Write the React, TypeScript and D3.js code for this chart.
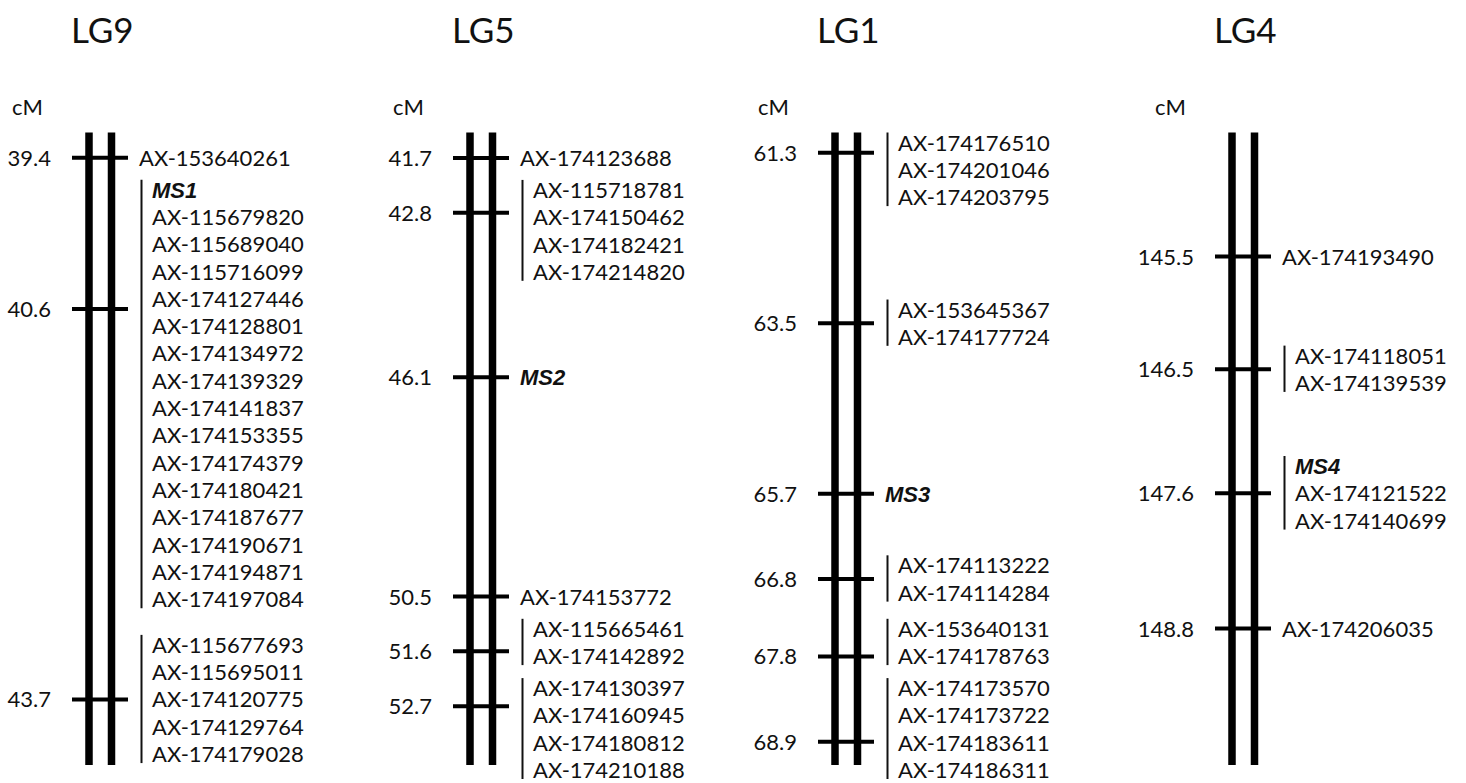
import React from 'react';
import * as d3 from 'd3';

// linkage groups, left to right
const groupNames = ['LG9', 'LG5', 'LG1', 'LG4'];

// locus positions (cM)
const lg9Pos = [39.4, 40.6, 43.7];
const lg5Pos = [41.7, 42.8, 46.1, 50.5, 51.6, 52.7];
const lg1Pos = [61.3, 63.5, 65.7, 66.8, 67.8, 68.9];
const lg4Pos = [145.5, 146.5, 147.6, 148.8];

// cM span shown by each bar
const lg9Extent = [39.2, 44.22];
const lg5Extent = [41.19, 53.88];
const lg1Extent = [61.04, 69.2];
const lg4Extent = [144.4, 150.01];

// markers at each locus
const lg9Markers = [
  ['AX-153640261'],
  ['MS1', 'AX-115679820', 'AX-115689040', 'AX-115716099', 'AX-174127446', 'AX-174128801',
    'AX-174134972', 'AX-174139329', 'AX-174141837', 'AX-174153355', 'AX-174174379',
    'AX-174180421', 'AX-174187677', 'AX-174190671', 'AX-174194871', 'AX-174197084'],
  ['AX-115677693', 'AX-115695011', 'AX-174120775', 'AX-174129764', 'AX-174179028'],
];
const lg5Markers = [
  ['AX-174123688'],
  ['AX-115718781', 'AX-174150462', 'AX-174182421', 'AX-174214820'],
  ['MS2'],
  ['AX-174153772'],
  ['AX-115665461', 'AX-174142892'],
  ['AX-174130397', 'AX-174160945', 'AX-174180812', 'AX-174210188'],
];
const lg1Markers = [
  ['AX-174176510', 'AX-174201046', 'AX-174203795'],
  ['AX-153645367', 'AX-174177724'],
  ['MS3'],
  ['AX-174113222', 'AX-174114284'],
  ['AX-153640131', 'AX-174178763'],
  ['AX-174173570', 'AX-174173722', 'AX-174183611', 'AX-174186311'],
];
const lg4Markers = [
  ['AX-174193490'],
  ['AX-174118051', 'AX-174139539'],
  ['MS4', 'AX-174121522', 'AX-174140699'],
  ['AX-174206035'],
];

const allPos = [lg9Pos, lg5Pos, lg1Pos, lg4Pos];
const allExtent = [lg9Extent, lg5Extent, lg1Extent, lg4Extent];
const allMarkers = [lg9Markers, lg5Markers, lg1Markers, lg4Markers];

// layout
const W = 1466;
const H = 783;
const tickX = [72, 453, 818, 1215];
const barTop = 132.5;
const barBottom = 765;
const ROW = 27.3;
const GAP = 32;
const TOP_MIN = 142.5;
const BOTTOM_MAX = 770;
const font = 'Lato, "Open Sans", sans-serif';
const fs = 22;
const ink = '#111';

// push label blocks apart so they never overlap
function layoutGroups(ys: number[], sizes: number[]) {
  const n = ys.length;
  const s = ys.map((y, i) => y - ((sizes[i] - 1) * ROW) / 2);
  for (let i = 0; i < n; i++) {
    if (i === 0) s[0] = Math.max(s[0], TOP_MIN);
    else s[i] = Math.max(s[i], s[i - 1] + (sizes[i - 1] - 1) * ROW + GAP);
  }
  s[n - 1] = Math.min(s[n - 1], BOTTOM_MAX - (sizes[n - 1] - 1) * ROW);
  for (let i = n - 2; i >= 0; i--) {
    s[i] = Math.min(s[i], s[i + 1] - GAP - (sizes[i] - 1) * ROW);
  }
  return s;
}

const Chromosome = ({ idx }: { idx: number }) => {
  const x0 = tickX[idx];
  const pos = allPos[idx];
  const markers = allMarkers[idx];
  const y = d3.scaleLinear().domain(allExtent[idx]).range([barTop, barBottom]);
  const starts = layoutGroups(pos.map(d => y(d)), markers.map(m => m.length));
  const bars = [x0 + 17, x0 + 39.5];

  return (
    <g>
      <text x={x0 - 1} y={43} fontFamily={font} fontSize={35} fill={ink}>{groupNames[idx]}</text>
      <text x={x0 - 60} y={115} fontFamily={font} fontSize={fs} fill={ink}>cM</text>
      {bars.map((bx, i) => (
        <rect key={i} x={bx - 3.75} y={barTop} width={7.5} height={barBottom - barTop} fill="#000" />
      ))}
      {pos.map((p, i) => {
        const ty = y(p);
        const list = markers[i];
        const s = starts[i];
        const grouped = list.length > 1;
        const tx = grouped ? x0 + 80 : x0 + 67;
        return (
          <g key={i}>
            <line x1={x0} x2={x0 + 56} y1={ty} y2={ty} stroke="#000" strokeWidth={4} />
            <text x={x0 - 21} y={ty + 8} textAnchor="end" fontFamily={font} fontSize={fs} fill={ink}>
              {p.toFixed(1)}
            </text>
            {grouped && (
              <line x1={x0 + 69.5} x2={x0 + 69.5} y1={s - 10} y2={s + (list.length - 1) * ROW + 9}
                stroke="#111" strokeWidth={2} />
            )}
            {list.map((m, j) => {
              const isMS = m.startsWith('MS');
              return (
                <text key={m} x={tx} y={s + j * ROW + 8}
                  fontFamily={isMS ? '"Liberation Sans", Arial, sans-serif' : font}
                  fontSize={isMS ? 22 : fs}
                  fontWeight={isMS ? 'bold' : 'normal'}
                  fontStyle={isMS ? 'italic' : 'normal'}
                  fill={ink}>
                  {m}
                </text>
              );
            })}
          </g>
        );
      })}
    </g>
  );
};

export default function App() {
  return (
    <svg width={W} height={H} style={{ position: 'absolute', left: 0, top: 0, background: '#fff' }}>
      <rect width={W} height={H} fill="#fff" />
      {groupNames.map((_, i) => <Chromosome key={i} idx={i} />)}
    </svg>
  );
}
